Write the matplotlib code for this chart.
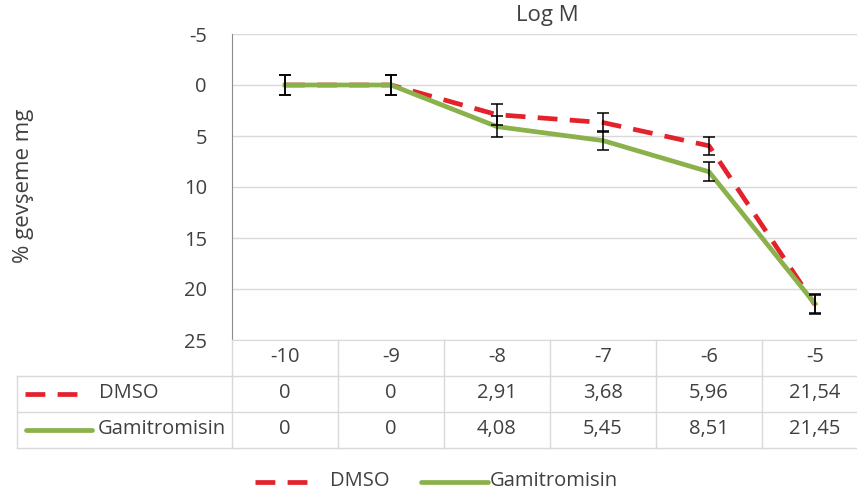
import matplotlib.pyplot as plt

plt.rcParams['font.family'] = ['Open Sans', 'DejaVu Sans']
plt.rcParams['axes.unicode_minus'] = False

# data
categories = ["-10", "-9", "-8", "-7", "-6", "-5"]
dmso = [0, 0, 2.91, 3.68, 5.96, 21.54]
gamitromisin = [0, 0, 4.08, 5.45, 8.51, 21.45]
dmso_err = [1.0, 1.0, 1.05, 0.95, 0.9, 0.95]
gam_err = [1.0, 1.0, 1.0, 0.95, 0.95, 0.95]
series_names = ["DMSO", "Gamitromisin"]

RED = '#E3222B'
GREEN = '#8AB14A'
GRID = '#D9D9D9'
TXT = '#404040'
FS = 14.5
DASH = (4.2, 2.6)

W, H = 857, 497
fig = plt.figure(figsize=(W / 100, H / 100), dpi=100)


def box(x0, y0, x1, y1):
    # pixel box (top-left origin) -> figure fraction rect
    return [x0 / W, 1 - y1 / H, (x1 - x0) / W, (y1 - y0) / H]


# plot area (right edge runs past the image, as in the original)
left, top, col_w = 232, 34, 106
right, bottom = left + col_w * 6, 340
ax = fig.add_axes(box(left, top, right, bottom))
x = list(range(len(categories)))

ax.plot(x, dmso, color=RED, lw=3.4, dashes=DASH, zorder=3)
ax.plot(x, gamitromisin, color=GREEN, lw=3.4, zorder=4)
ax.errorbar(x, dmso, yerr=dmso_err, fmt='none', ecolor='black', elinewidth=1.1,
            capsize=4.5, capthick=1.1, zorder=5)
ax.errorbar(x, gamitromisin, yerr=gam_err, fmt='none', ecolor='black', elinewidth=1.1,
            capsize=4.5, capthick=1.1, zorder=5)

ax.set_xlim(-0.5, len(categories) - 0.5)
ax.set_ylim(25, -5)
ax.set_yticks(range(-5, 26, 5))
ax.set_xticks([])
ax.tick_params(axis='y', length=0, labelsize=FS, labelcolor=TXT, pad=18)
ax.grid(axis='y', color=GRID, lw=1)
ax.set_axisbelow(True)
for s in ['top', 'right']:
    ax.spines[s].set_visible(False)
ax.spines['left'].set_color('#8C8C8C')
ax.spines['bottom'].set_color(GRID)

# overlay in pixel coordinates for titles, table and legend
ov = fig.add_axes([0, 0, 1, 1])
ov.set_xlim(0, W)
ov.set_ylim(H, 0)
ov.axis('off')

ov.text(547, 16, "Log M", ha='center', va='center', fontsize=16, color=TXT)
ov.text(24, 186, "% gevşeme mg", ha='center', va='center', rotation=90,
        fontsize=16, color=TXT)

tbl_left = 17
rows_y = [340, 376, 412, 448]
for yy in rows_y[1:]:
    ov.plot([tbl_left, right], [yy, yy], color=GRID, lw=1)
ov.plot([tbl_left, tbl_left], [rows_y[1], rows_y[3]], color=GRID, lw=1)
for k in range(7):
    xx = left + col_w * k
    ov.plot([xx, xx], [rows_y[0], rows_y[3]], color=GRID, lw=1)


def fmt(v):
    return "0" if v == 0 else f"{v:.2f}".replace('.', ',')


for k, c in enumerate(categories):
    cx = left + col_w * (k + 0.5)
    ov.text(cx, 357, c, ha='center', va='center', fontsize=FS, color=TXT)
    ov.text(cx, 393, fmt(dmso[k]), ha='center', va='center', fontsize=FS, color=TXT)
    ov.text(cx, 429, fmt(gamitromisin[k]), ha='center', va='center', fontsize=FS, color=TXT)

# legend keys inside the table
ov.plot([25, 80], [394, 394], color=RED, lw=3.4, dashes=DASH)
ov.text(99, 393, series_names[0], ha='left', va='center', fontsize=FS, color=TXT)
ov.plot([26, 92], [430, 430], color=GREEN, lw=3.4, solid_capstyle='round')
ov.text(98, 429, series_names[1], ha='left', va='center', fontsize=FS, color=TXT)

# bottom legend
ov.plot([255, 310], [482, 482], color=RED, lw=3.4, dashes=DASH)
ov.text(330, 481, series_names[0], ha='left', va='center', fontsize=FS, color=TXT)
ov.plot([421, 488], [482, 482], color=GREEN, lw=3.4, solid_capstyle='round')
ov.text(490, 481, series_names[1], ha='left', va='center', fontsize=FS, color=TXT)

fig.savefig("out.png", dpi=100)
